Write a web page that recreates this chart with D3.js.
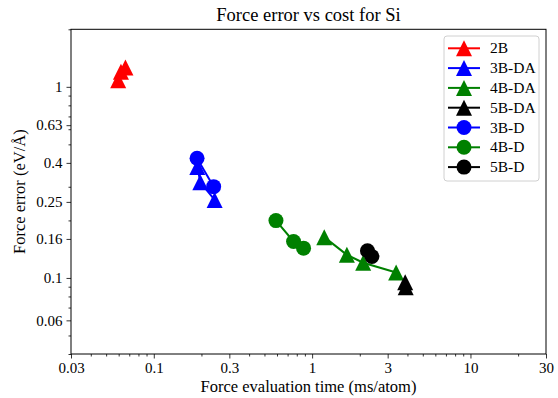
<!DOCTYPE html>
<html>
<head>
<meta charset="utf-8">
<script src="https://cdn.jsdelivr.net/npm/d3@7"></script>
<style>
  html, body { margin: 0; padding: 0; background: #fff; }
  svg text { font-family: "Liberation Serif", "DejaVu Serif", serif; fill: #000; }
</style>
</head>
<body>
<div id="chart"></div>
<script>
// ---- data ----
const seriesNames = ["2B", "3B-DA", "4B-DA", "5B-DA", "3B-D", "4B-D", "5B-D"];
const seriesColors = ["#ff0000", "#0000ff", "#008000", "#000000", "#0000ff", "#008000", "#000000"];
const seriesMarkers = ["triangle", "triangle", "triangle", "triangle", "circle", "circle", "circle"];
const time2B = [0.0596, 0.0620, 0.0662];
const err2B = [1.084, 1.199, 1.263];
const time3BDA = [0.1884, 0.1968, 0.2423];
const err3BDA = [0.381, 0.3165, 0.256];
const time4BDA = [1.193, 1.658, 2.101, 3.394];
const err4BDA = [0.1635, 0.1322, 0.1201, 0.1068];
const time5BDA = [3.87, 3.90];
const err5BDA = [0.0950, 0.0893];
const time3BD = [0.1876, 0.2388];
const err3BD = [0.4228, 0.3004];
const time4BD = [0.591, 0.7635, 0.883];
const err4BD = [0.1996, 0.1551, 0.1432];
const time5BD = [2.237, 2.385];
const err5BD = [0.1387, 0.1295];
const xTickLabels = [0.03, 0.1, 0.3, 1, 3, 10, 30];
const xMinorTicks = [0.04,0.05,0.06,0.07,0.08,0.09,0.2,0.4,0.5,0.6,0.7,0.8,0.9,2,4,5,6,7,8,9,20];
const yTickLabels = [1, 0.63, 0.4, 0.25, 0.16, 0.1, 0.06];
const yMinorTicks = [0.04,0.05,0.07,0.08,0.09,0.2,0.3,0.5,0.6,0.7,0.8,0.9,2];
const xDomain = [0.03, 30];
const yDomain = [0.04, 2];

const seriesTimes = [time2B, time3BDA, time4BDA, time5BDA, time3BD, time4BD, time5BD];
const seriesErrs = [err2B, err3BDA, err4BDA, err5BDA, err3BD, err4BD, err5BD];
const series = seriesNames.map((n, i) => ({
  name: n, color: seriesColors[i], marker: seriesMarkers[i],
  pts: seriesTimes[i].map((t, j) => ({x: t, y: seriesErrs[i][j]}))
}));

// ---- layout ----
const W = 558, H = 398;
const L = 71, R = 546, T = 29.3, B = 354;
const svg = d3.select("#chart").append("svg").attr("width", W).attr("height", H);

const x = d3.scaleLog().domain(xDomain).range([L, R]);
const y = d3.scaleLog().domain(yDomain).range([B, T]);

const fmt = d => String(d);

// axes
const xAxis = d3.axisBottom(x).tickValues(xTickLabels).tickFormat(fmt).tickSize(4.5).tickPadding(4);
const xMinor = d3.axisBottom(x).tickValues(xMinorTicks).tickFormat("").tickSize(2.5);
const yAxis = d3.axisLeft(y).tickValues(yTickLabels).tickFormat(fmt).tickSize(4.5).tickPadding(4);
const yMinor = d3.axisLeft(y).tickValues(yMinorTicks).tickFormat("").tickSize(2.5);

function styleAxis(g) {
  g.select(".domain").remove();
  g.selectAll(".tick line").attr("stroke", "#000").attr("stroke-width", 0.8);
  g.selectAll(".tick text").style("font-family", "'Liberation Serif', serif").style("font-size", "15px").attr("fill", "#000");
}
svg.append("g").attr("transform", `translate(0,${B})`).call(xAxis).call(styleAxis);
svg.append("g").attr("transform", `translate(0,${B})`).call(xMinor).call(styleAxis);
svg.append("g").attr("transform", `translate(${L},0)`).call(yAxis).call(styleAxis);
svg.append("g").attr("transform", `translate(${L},0)`).call(yMinor).call(styleAxis);

// frame
svg.append("rect").attr("x", L).attr("y", T).attr("width", R - L).attr("height", B - T)
  .attr("fill", "none").attr("stroke", "#000").attr("stroke-width", 1);

const ms = 16;
const triPath = `M0,${-ms/2} L${ms/2},${ms/2} L${-ms/2},${ms/2} Z`;
function drawMarker(g, m, color) {
  if (m === "triangle") g.append("path").attr("d", triPath).attr("fill", color);
  else g.append("circle").attr("r", ms / 2 - 0.5).attr("fill", color);
}

const line = d3.line().x(d => x(d.x)).y(d => y(d.y));
const plot = svg.append("g");
series.forEach(s => {
  const g = plot.append("g");
  g.append("path").attr("d", line(s.pts)).attr("fill", "none").attr("stroke", s.color).attr("stroke-width", 2);
  s.pts.forEach(p => {
    const mg = g.append("g").attr("transform", `translate(${x(p.x)},${y(p.y)})`);
    drawMarker(mg, s.marker, s.color);
  });
});

// title and labels
svg.append("text").attr("x", (L + R) / 2).attr("y", 21).attr("text-anchor", "middle")
  .style("font-size", "18.5px").text("Force error vs cost for Si");
svg.append("text").attr("x", (L + R) / 2).attr("y", 392).attr("text-anchor", "middle")
  .style("font-size", "16.5px").text("Force evaluation time (ms/atom)");
svg.append("text").attr("transform", `translate(25,${(T + B) / 2}) rotate(-90)`).attr("text-anchor", "middle")
  .style("font-size", "16.5px").text("Force error (eV/Å)");

// legend
const lg = svg.append("g");
lg.append("rect").attr("x", 444).attr("y", 36).attr("width", 95).attr("height", 145).attr("rx", 3)
  .attr("fill", "#fff").attr("fill-opacity", 0.8).attr("stroke", "#d0d0d0").attr("stroke-width", 1);
series.forEach((s, i) => {
  const yy = 48.3 + i * 19.8;
  lg.append("line").attr("x1", 448).attr("x2", 480).attr("y1", yy).attr("y2", yy)
    .attr("stroke", s.color).attr("stroke-width", 2);
  const mg = lg.append("g").attr("transform", `translate(464,${yy})`);
  drawMarker(mg, s.marker, s.color);
  lg.append("text").attr("x", 490).attr("y", yy + 5).style("font-size", "15.5px").text(s.name);
});
</script>
</body>
</html>
